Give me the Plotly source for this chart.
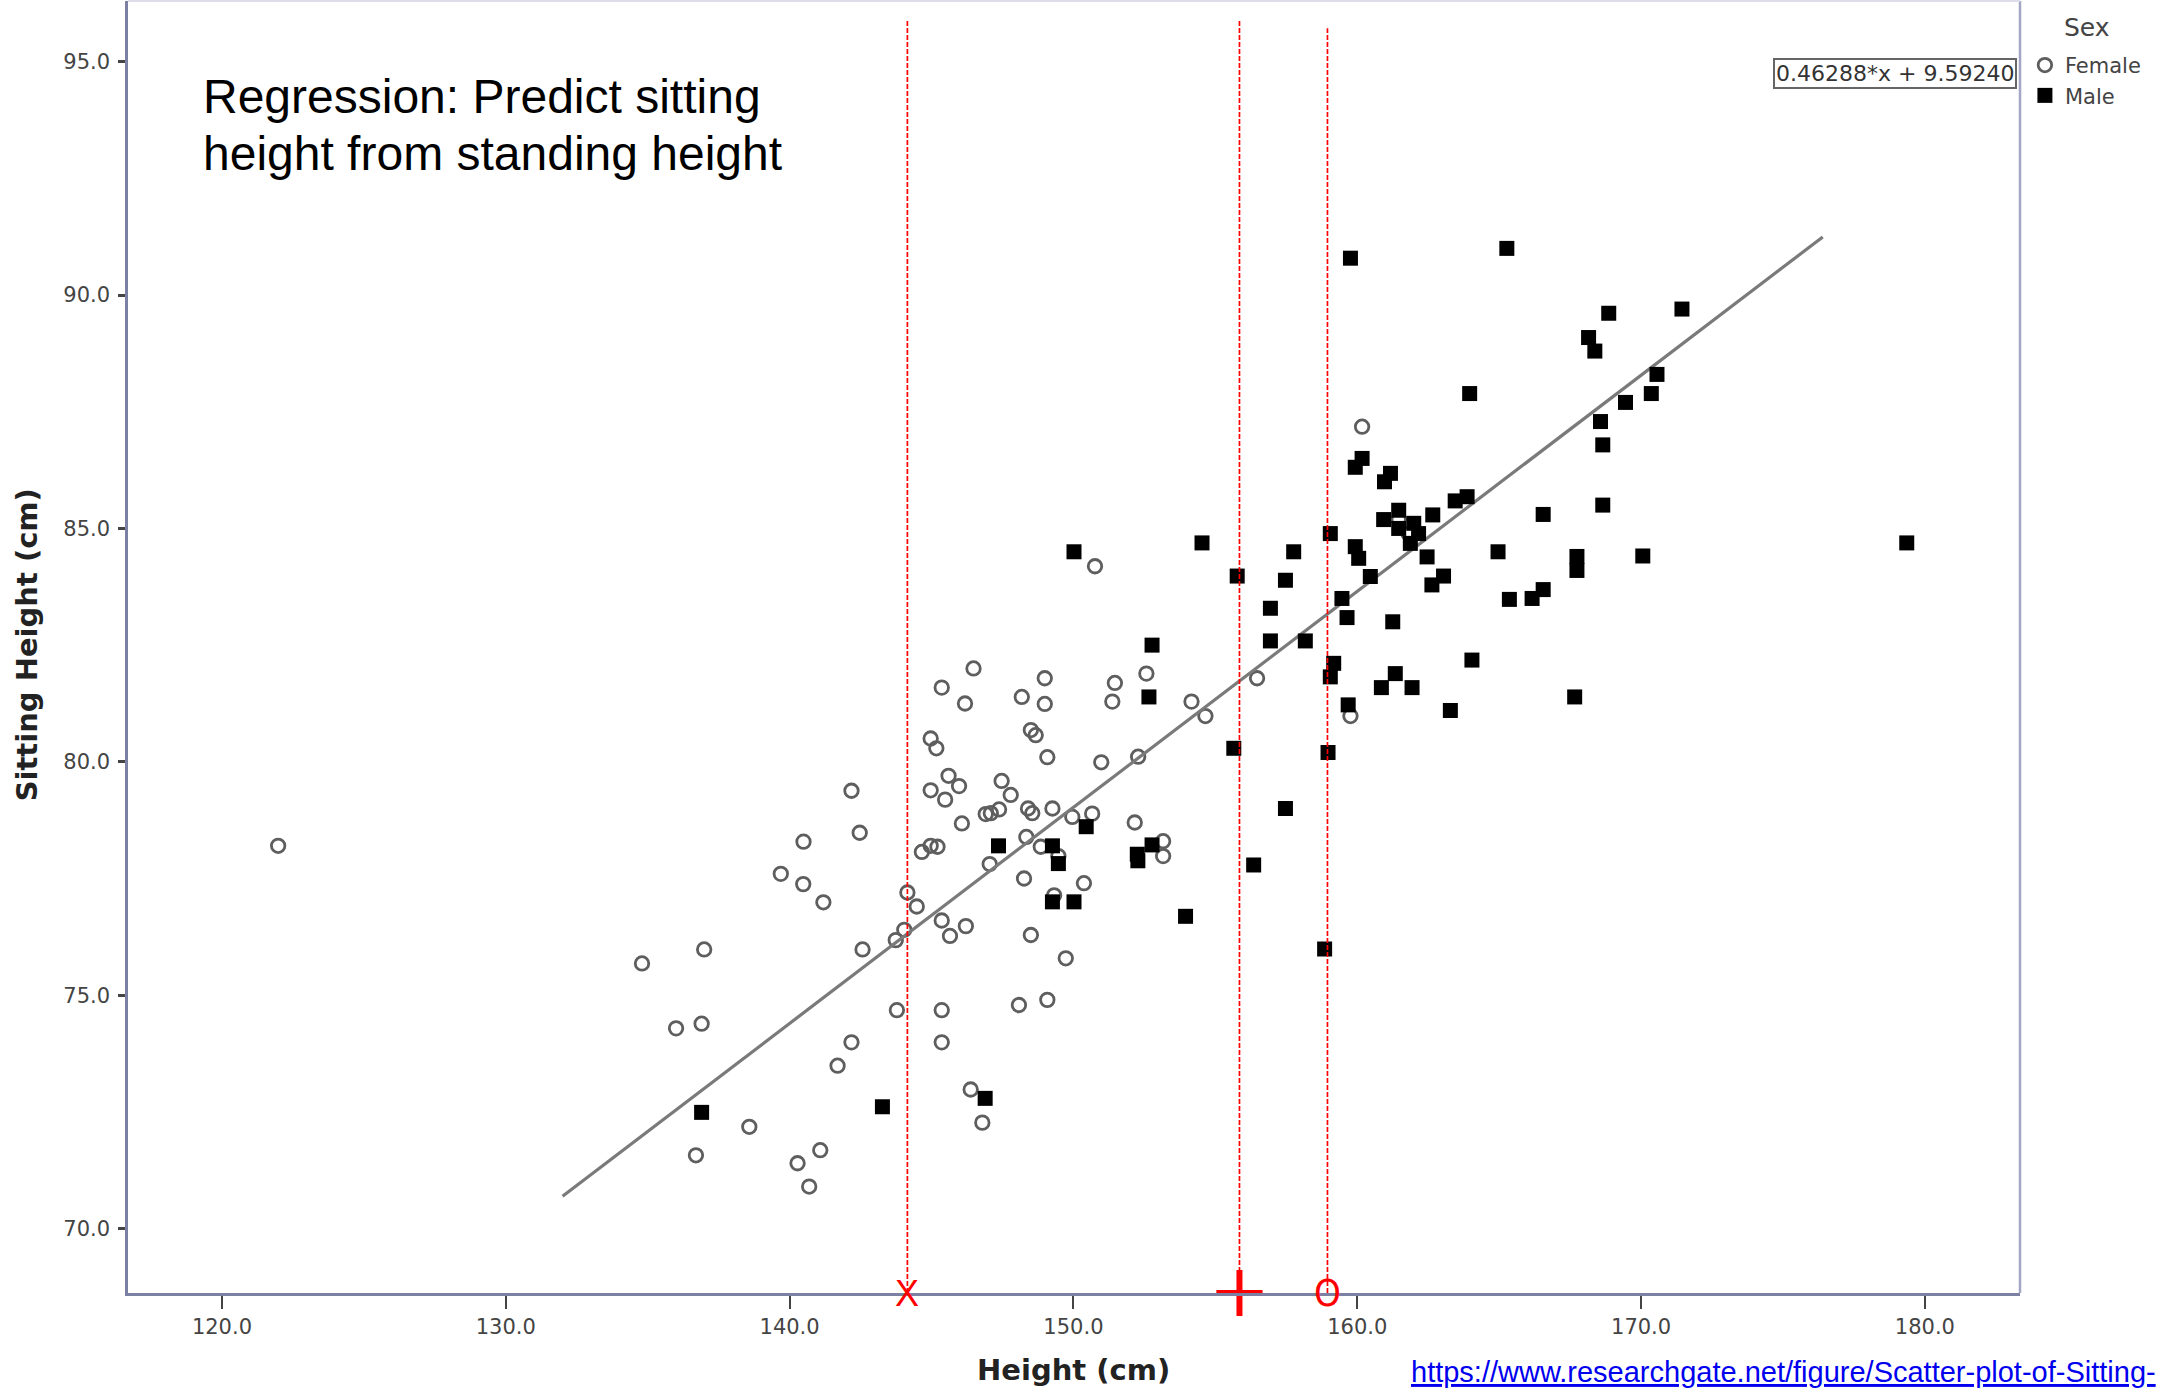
import plotly.graph_objects as go

# ---------------- data ----------------
female_height = [
    121.98, 146.48, 145.36, 146.18, 148.99, 148.18, 148.99,
    160.17, 161.46, 161.81, 150.76, 152.57, 151.46, 151.37, 154.16, 156.47, 159.76,
    144.97, 145.17, 148.50, 148.67, 149.08, 145.60, 145.97, 144.97, 145.48, 147.47,
    147.79, 146.07, 146.91, 147.09, 147.38, 148.40, 148.55, 149.26, 149.96, 148.34,
    147.05, 148.85, 149.47, 149.32, 148.26, 148.50, 149.73, 144.15, 144.48, 145.36,
    146.21, 145.65, 144.04, 143.74, 142.57, 142.47, 142.18, 140.49, 139.69, 140.48,
    141.19, 136.99, 134.80, 136.00, 136.90, 143.78, 145.36, 145.36, 142.18, 141.69,
    148.08, 149.08, 146.38, 146.79, 138.58, 136.70, 141.08, 140.28, 140.69, 144.66,
    144.97, 145.21, 154.65, 152.28, 150.98, 150.66, 152.16, 153.16, 153.16, 150.37,
]
female_sitting = [
    78.20, 82.00, 81.59, 81.25, 81.79, 81.39, 81.24,
    87.18, 85.19, 84.89, 84.19, 81.89, 81.69, 81.29, 81.29, 81.79, 80.98,
    80.50, 80.29, 80.68, 80.57, 80.10, 79.70, 79.48, 79.39, 79.19, 79.59,
    79.29, 78.68, 78.88, 78.90, 78.98, 79.00, 78.90, 79.00, 78.82, 78.39,
    77.81, 78.18, 77.98, 77.14, 77.50, 76.29, 75.79, 77.20, 76.90, 76.60,
    76.48, 76.27, 76.40, 76.18, 75.98, 78.48, 79.38, 78.29, 77.60, 77.38,
    76.99, 75.98, 75.68, 74.29, 74.39, 74.68, 74.68, 73.99, 73.99, 73.49,
    74.79, 74.90, 72.98, 72.27, 72.18, 71.57, 71.68, 71.40, 70.90, 78.07,
    78.20, 78.18, 80.98, 80.11, 79.99, 78.89, 78.70, 78.30, 77.98, 77.40,
]
male_height = [
    159.76, 165.27, 163.96, 160.17, 159.93, 161.17, 160.96, 163.87, 163.45, 162.66,
    161.46, 160.93, 161.99, 161.46, 162.16, 161.87, 159.05, 154.53, 150.02, 157.76,
    155.77, 157.47, 159.93, 160.05, 160.46, 162.46, 163.04, 162.63, 164.96, 165.36,
    159.46, 156.94, 159.64, 161.25, 156.94, 158.17, 152.77, 164.04, 152.66, 159.17,
    159.05, 161.34, 160.85, 161.93, 159.68, 163.28,
    147.36, 149.26, 149.47, 149.26, 146.89, 143.27, 136.90,
    155.65, 158.97, 157.47, 150.45, 152.77, 152.25, 152.27, 150.02, 153.95, 156.35, 158.85,
    168.86, 171.44, 168.15, 168.37, 170.56, 170.36, 169.45, 168.57, 168.65, 166.55,
    168.65, 167.74, 167.74, 170.06, 179.36, 166.55, 166.16, 167.66,
]
male_sitting = [
    90.79, 91.00, 87.89, 86.50, 86.31, 86.18, 86.00, 85.68, 85.59, 85.29,
    85.39, 85.19, 85.11, 85.00, 84.89, 84.68, 84.89, 84.69, 84.50, 84.50,
    83.98, 83.89, 84.61, 84.36, 83.97, 84.39, 83.98, 83.79, 84.50, 83.48,
    83.50, 83.29, 83.09, 83.00, 82.59, 82.59, 82.50, 82.18, 81.39, 82.11,
    81.82, 81.89, 81.59, 81.59, 81.22, 81.10,
    78.20, 78.20, 77.82, 77.00, 72.79, 72.61, 72.49,
    80.29, 80.20, 79.00, 78.61, 78.22, 78.02, 77.88, 77.00, 76.69, 77.79, 75.99,
    89.61, 89.70, 89.09, 88.80, 88.30, 87.89, 87.70, 87.29, 86.79, 85.30,
    85.50, 84.40, 84.10, 84.41, 84.69, 83.69, 83.50, 81.39,
]

slope, intercept = 0.46288, 9.59240
fit_x = [132.0, 176.4]
fit_y = [slope * v + intercept for v in fit_x]

cutoffs = [144.15, 155.85, 158.95]
cutoff_tops = [0.986, 0.986, 0.979]
cutoff_labels = ["X", "+", "O"]

x_ticks = [120, 130, 140, 150, 160, 170, 180]
y_ticks = [70, 75, 80, 85, 90, 95]

# ---------------- figure ----------------
fig = go.Figure()

fig.add_trace(go.Scatter(
    x=female_height, y=female_sitting, mode="markers", name="Female",
    marker=dict(symbol="circle-open", size=13.5, color="#5e5e5e", line=dict(width=2.8, color="#5e5e5e")),
))
fig.add_trace(go.Scatter(
    x=fit_x, y=fit_y, mode="lines", showlegend=False,
    line=dict(color="#7a7a7a", width=3.2),
))
fig.add_trace(go.Scatter(
    x=male_height, y=male_sitting, mode="markers", name="Male",
    marker=dict(symbol="square", size=15, color="#000000", line=dict(width=0)),
))

red = "#ff0000"
for cx, top in zip(cutoffs, cutoff_tops):
    fig.add_shape(type="line", xref="x", yref="paper", x0=cx, x1=cx, y0=0, y1=top,
                  line=dict(color=red, width=1.7, dash="5px,2px"))

# red markers at the axis
fig.add_annotation(x=cutoffs[0], y=0, xref="x", yref="paper", text=cutoff_labels[0],
                   showarrow=False, xanchor="center", yanchor="middle",
                   font=dict(family="Liberation Sans", size=36, color=red))
fig.add_trace(go.Scatter(
    x=[cutoffs[1]], y=[68.62], mode="markers", showlegend=False, cliponaxis=False,
    marker=dict(symbol="cross-thin", size=33, line=dict(width=6, color=red), color=red),
))
fig.add_annotation(x=cutoffs[2], y=0, xref="x", yref="paper", text=cutoff_labels[2],
                   showarrow=False, xanchor="center", yanchor="middle",
                   font=dict(family="DejaVu Sans Condensed, Liberation Sans", size=38, color=red))

# frame
fig.add_shape(type="line", xref="paper", yref="paper", x0=1, x1=1, y0=0, y1=1,
              line=dict(color="#a3a6c4", width=2.5))
fig.add_shape(type="line", xref="paper", yref="paper", x0=0, x1=1, y0=1, y1=1,
              line=dict(color="#dcdde8", width=2))

# title text (two lines, tight spacing)
title_lines = ["Regression: Predict sitting", "height from standing height"]
for i, line in enumerate(title_lines):
    fig.add_annotation(x=(201 - 128) / 1892, y=(1293 - 97 - 56 * i) / 1292, xref="paper", yref="paper",
                       text=line, showarrow=False, xanchor="left", yanchor="middle", align="left",
                       font=dict(family="Liberation Sans", size=48, color="#000000"))

# equation box
fig.add_annotation(x=0.9985, y=0.9435, xref="paper", yref="paper",
                   text="0.46288*x + 9.59240", showarrow=False,
                   xanchor="right", yanchor="middle",
                   font=dict(family="DejaVu Sans", size=22, color="#333333"),
                   bgcolor="#ffffff", bordercolor="#666666", borderwidth=2, borderpad=1)

# legend title
fig.add_annotation(x=(2087 - 128) / 1892, y=(1293 - 27) / 1292, xref="paper", yref="paper",
                   text="Sex", showarrow=False, xanchor="center", yanchor="middle",
                   font=dict(family="DejaVu Sans", size=25, color="#444444"))

# axis titles
fig.add_annotation(x=0.4995, y=-0.0596, xref="paper", yref="paper", text="<b>Height (cm)</b>",
                   showarrow=False, xanchor="center", yanchor="middle",
                   font=dict(family="DejaVu Sans", size=29, color="#222222"))
fig.add_annotation(x=-0.0529, y=0.502, xref="paper", yref="paper", text="<b>Sitting Height (cm)</b>",
                   showarrow=False, xanchor="center", yanchor="middle", textangle=-90,
                   font=dict(family="DejaVu Sans", size=29, color="#222222"))

# source url
fig.add_annotation(x=(1409 - 128) / 1892, y=-0.0611, xref="paper", yref="paper",
                   text="<u>https://www.researchgate.net/figure/Scatter-plot-of-Sitting-</u>",
                   showarrow=False, xanchor="left", yanchor="middle",
                   font=dict(family="Liberation Sans", size=29, color="#0000ee"))

fig.update_xaxes(
    range=[116.69, 183.35], tickvals=x_ticks, ticktext=[f"{v:.1f}" for v in x_ticks],
    showgrid=False, zeroline=False, showline=True, linecolor="#7c80a2", linewidth=3,
    ticks="outside", ticklen=13, tickwidth=2, tickcolor="#444444",
    tickfont=dict(family="DejaVu Sans", size=21, color="#444444"),
)
fig.update_yaxes(
    range=[68.62, 96.30], tickvals=y_ticks, ticktext=[f"{v:.1f}" for v in y_ticks],
    showgrid=False, zeroline=False, showline=True, linecolor="#7c80a2", linewidth=2.5,
    ticks="outside", ticklen=7, tickwidth=2.5, tickcolor="#444444", ticklabelstandoff=4,
    tickfont=dict(family="DejaVu Sans", size=21, color="#444444"),
)

fig.update_layout(
    width=2164, height=1392,
    margin=dict(l=128, r=144, t=1, b=99),
    paper_bgcolor="#ffffff", plot_bgcolor="#ffffff",
    showlegend=True,
    legend=dict(x=1.0026, xanchor="left", y=0.966, yanchor="top",
                font=dict(family="DejaVu Sans", size=21, color="#444444"),
                bgcolor="rgba(0,0,0,0)", itemwidth=30, tracegroupgap=0),
)

fig.write_html("out.html", config={"displayModeBar": False},
               post_script="document.body.style.margin='0px';")
